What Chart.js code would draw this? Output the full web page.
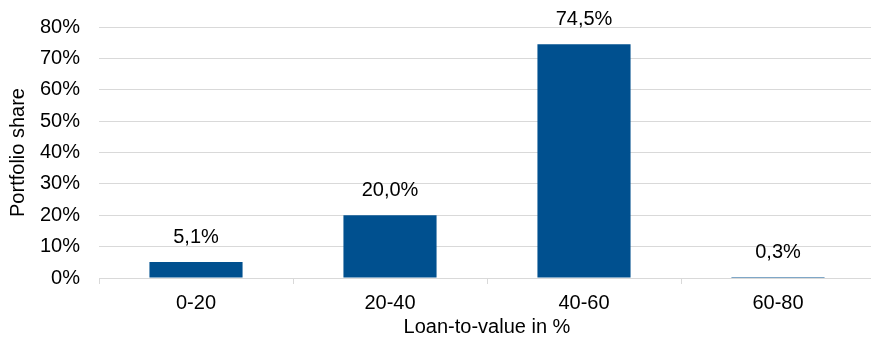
<!DOCTYPE html>
<html>
<head>
<meta charset="utf-8">
<script src="https://cdn.jsdelivr.net/npm/chart.js@4/dist/chart.umd.min.js"></script>
<style>
  html, body { margin: 0; padding: 0; background: #fff; overflow: hidden; }
</style>
</head>
<body>
<canvas id="myChart" width="876" height="339"></canvas>
<script>
// categories and values
var categories = ["0-20", "20-40", "40-60", "60-80"];
var shares = [5.1, 20.0, 74.5, 0.3];
var valueLabels = ["5,1%", "20,0%", "74,5%", "0,3%"];
var yTicks = [0, 10, 20, 30, 40, 50, 60, 70, 80];

var font = "'Liberation Sans', Arial, sans-serif";

// draws the value above each bar
var barLabels = {
  id: "barLabels",
  afterDatasetsDraw: function (chart) {
    var ctx = chart.ctx;
    var meta = chart.getDatasetMeta(0);
    ctx.save();
    ctx.font = "20px " + font;
    ctx.fillStyle = "#000";
    ctx.textAlign = "center";
    ctx.textBaseline = "middle";
    meta.data.forEach(function (bar, i) {
      ctx.fillText(valueLabels[i], bar.x, bar.y - 25);
    });
    ctx.restore();
  }
};

const ctx = document.getElementById("myChart");

new Chart(ctx, {
  type: "bar",
  data: {
    labels: categories,
    datasets: [
      {
        data: shares,
        backgroundColor: "#00508F",
        categoryPercentage: 1,
        barPercentage: 0.48
      }
    ]
  },
  options: {
    responsive: false,
    animation: false,
    layout: { padding: { top: 27, right: 1, left: 0, bottom: 0 } },
    plugins: { legend: { display: false }, tooltip: { enabled: false } },
    scales: {
      x: {
        afterFit: function (axis) { axis.height = 61; },
        grid: { offset: true, drawOnChartArea: false, drawTicks: true, tickLength: 6, color: "#d9d9d9" },
        border: { color: "#d9d9d9", width: 1 },
        ticks: { color: "#000", font: { family: font, size: 20 }, padding: 7 },
        title: { display: true, text: "Loan-to-value in %", color: "#000", font: { family: font, size: 20 }, padding: { top: 0, bottom: 0 } }
      },
      y: {
        min: 0,
        max: 80,
        afterFit: function (axis) {
          axis.width = 99;
          axis.paddingTop = 0;
          axis.paddingBottom = 0;
        },
        afterBuildTicks: function (axis) {
          axis.ticks = yTicks.map(function (v) { return { value: v }; });
        },
        grid: { color: "#d9d9d9", drawTicks: false },
        border: { display: false },
        ticks: {
          autoSkip: false,
          color: "#000",
          font: { family: font, size: 20 },
          padding: 19,
          callback: function (v) { return v + "%"; }
        },
        title: { display: true, text: "Portfolio share", color: "#000", font: { family: font, size: 20 }, padding: { top: 6, bottom: 0 } }
      }
    }
  },
  plugins: [barLabels]
});
</script>
</body>
</html>
